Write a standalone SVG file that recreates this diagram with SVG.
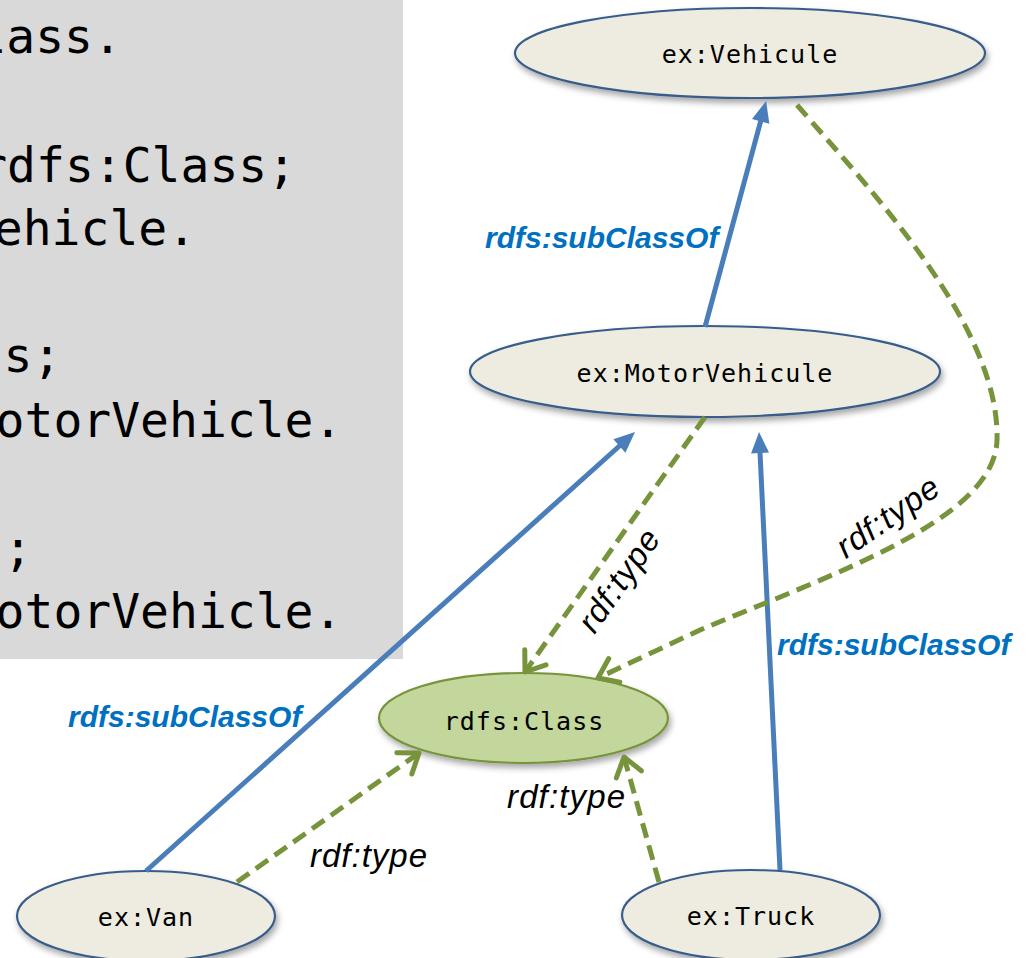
<svg xmlns="http://www.w3.org/2000/svg" width="1026" height="958" viewBox="0 0 1026 958">
<style>
.code{font-family:"DejaVu Sans Mono","Liberation Mono",monospace;font-size:48px;fill:#000}
.node{fill:#eeece1;stroke:#385d8a;stroke-width:2.2;filter:url(#sh)}
.cls{fill:#c3d69b;stroke:#77933c;stroke-width:2.2;filter:url(#sh)}
.nt{font-family:"DejaVu Sans Mono","Liberation Mono",monospace;font-size:25px;letter-spacing:1px;fill:#000;text-anchor:middle}
.sub{fill:none;stroke:#4a7ebb;stroke-width:5;marker-end:url(#ba)}
.typ{fill:none;stroke:#77933c;stroke-width:5;stroke-dasharray:15 8;marker-end:url(#ga)}
.sl{font-family:"Liberation Sans",Arial,sans-serif;font-size:30px;font-weight:bold;font-style:italic;fill:#0070c0}
.tl{font-family:"Liberation Sans",Arial,sans-serif;font-size:33px;font-style:italic;fill:#000}
</style>
<defs>
<filter id="sh" x="-10%" y="-20%" width="125%" height="150%">
<feDropShadow dx="2" dy="4" stdDeviation="3" flood-color="#000" flood-opacity="0.35"/>
</filter>
<marker id="ba" markerUnits="userSpaceOnUse" markerWidth="24" markerHeight="20" refX="9" refY="9" orient="auto" overflow="visible">
<path d="M0,0 L21,9 L0,18 z" fill="#4a7ebb"/>
</marker>
<marker id="ga" markerUnits="userSpaceOnUse" markerWidth="28" markerHeight="32" refX="21" refY="15" orient="auto" overflow="visible">
<path d="M3,2 L21,15 L3,28" fill="none" stroke="#77933c" stroke-width="5" stroke-linecap="round" stroke-linejoin="round"/>
</marker>
</defs>
<rect width="1026" height="958" fill="#fff"/>
<g id="code">
<rect x="0" y="0" width="403" height="659" fill="#d9d9d9"/>
<text class="code" x="-22.6" y="53">lass.</text>
<text class="code" x="-21.8" y="182">rdfs:Class;</text>
<text class="code" x="-6.2" y="245">ehicle.</text>
<text class="code" x="-25.3" y="372">ss;</text>
<text class="code" x="-4.4" y="437">otorVehicle.</text>
<text class="code" x="-25.3" y="565">s;</text>
<text class="code" x="-4.4" y="628">otorVehicle.</text>
</g>
<g id="n-vehicule"><ellipse class="node" cx="750" cy="53" rx="235" ry="45"/><text class="nt" x="750" y="63">ex:Vehicule</text></g>
<g id="n-motor"><ellipse class="node" cx="705" cy="371.5" rx="235" ry="45.5"/><text class="nt" x="705" y="382">ex:MotorVehicule</text></g>
<g id="n-class"><ellipse class="cls" cx="523.5" cy="718" rx="144.5" ry="45"/><text class="nt" x="524" y="730">rdfs:Class</text></g>
<g id="n-van"><ellipse class="node" cx="146" cy="916" rx="129" ry="45"/><text class="nt" x="146" y="926">ex:Van</text></g>
<g id="n-truck"><ellipse class="node" cx="751" cy="915" rx="129" ry="45"/><text class="nt" x="751" y="925">ex:Truck</text></g>
<g id="connectors">
<path class="sub" d="M705,327 L763,112.6"/>
<path class="sub" d="M146,871 L626.1,440"/>
<path class="sub" d="M780,870 L759.6,444"/>
<path class="typ" d="M705,417 L525,672"/>
<path class="typ" d="M237,882 L419,753"/>
<path class="typ" d="M659,882 L624,757"/>
<path class="typ" d="M797,105 C880,200 1000,330 997,440 C995,520 830,575 700,630 L598,678"/>
<text class="sl" x="485" y="248">rdfs:subClassOf</text>
<text class="sl" x="68" y="727">rdfs:subClassOf</text>
<text class="sl" x="777" y="655">rdfs:subClassOf</text>
<text class="tl" x="310" y="867" textLength="117">rdf:type</text>
<text class="tl" x="507" y="808" textLength="118">rdf:type</text>
<text class="tl" text-anchor="middle" transform="translate(628,587) rotate(-55)" textLength="117">rdf:type</text>
<text class="tl" text-anchor="middle" transform="translate(894,526) rotate(-34.5)" textLength="117">rdf:type</text>
</g>
</svg>
